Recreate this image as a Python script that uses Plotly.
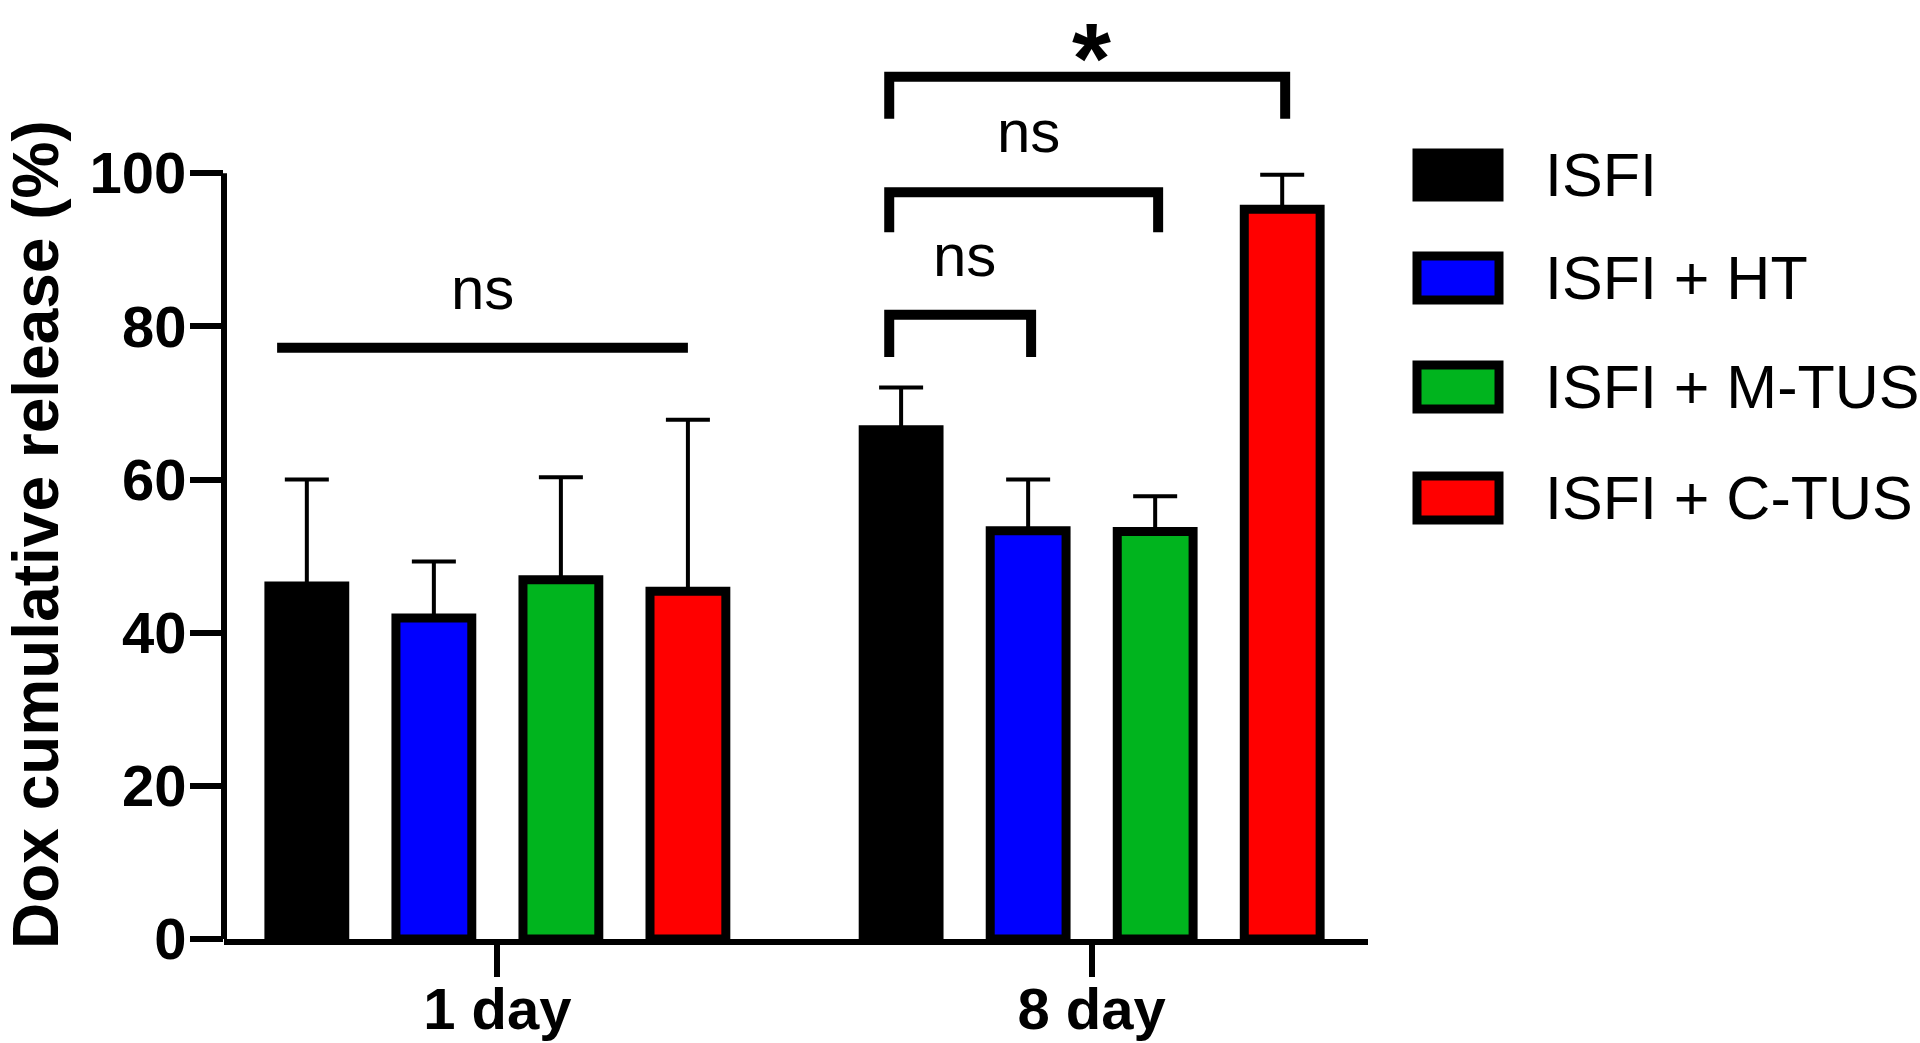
import plotly.graph_objects as go

# ---------------- data ----------------
categories = ["1 day", "8 day"]
groups = ["ISFI", "ISFI + HT", "ISFI + M-TUS", "ISFI + C-TUS"]
colors = ["#000000", "#0000FF", "#00B41E", "#FF0000"]

isfi = [46.1, 66.5]
isfi_ht = [41.9, 53.3]
isfi_mtus = [46.9, 53.2]
isfi_ctus = [45.4, 95.3]

isfi_sd = [13.9, 5.5]
isfi_ht_sd = [7.4, 6.7]
isfi_mtus_sd = [13.4, 4.6]
isfi_ctus_sd = [22.4, 4.5]

y_ticks = [0, 20, 40, 60, 80, 100]
y_title = "Dox cumulative release (%)"

# significance marks: (group index, from series, to series, bar level, label, label level)
sig_1day = (0, 0, 3, 77.2, "ns", 85.0)
# (group index, from series, to series, bar level, leg end, label, label level)
sig_8day = [
    (1, 0, 1, 81.5, 76.0, "ns", 89.3),
    (1, 0, 2, 97.5, 92.3, "ns", 105.5),
    (1, 0, 3, 112.6, 107.1, "*", 115.0),
]

means = [isfi, isfi_ht, isfi_mtus, isfi_ctus]
sds = [isfi_sd, isfi_ht_sd, isfi_mtus_sd, isfi_ctus_sd]

# ---------------- layout constants ----------------
W, H = 1920, 1043
ML, MR, MT, MB = 224, 552, 7, 104
PW, PH = W - ML - MR, H - MT - MB
YMAX = 121.7
XR = [-0.46, 1.465]
BARGAP = 0.145
BARGROUPGAP = 0.403
FONT = "Liberation Sans, Arial, Helvetica, sans-serif"
LEGEND_ROWS_PX = [175, 278, 387, 498]
x_pos = list(range(len(categories)))

slot = (1 - BARGAP) / len(groups)


def center(g, i):
    return x_pos[g] + (i - (len(groups) - 1) / 2) * slot


fig = go.Figure()
for name, col, m, sd in zip(groups, colors, means, sds):
    fig.add_trace(go.Bar(
        name=name, x=x_pos, y=m,
        marker=dict(color=col, line=dict(color="black", width=9)),
        error_y=dict(type="data", array=sd, arrayminus=[0] * len(sd), symmetric=False,
                     color="black", thickness=4, width=22),
        showlegend=False,
    ))

shapes = []
annotations = []

# y axis line only up to 100
shapes.append(dict(type="line", xref="paper", yref="paper", x0=0, x1=0,
                   y0=0, y1=y_ticks[-1] / YMAX, line=dict(color="black", width=6)))

# 1 day ns line
g, a, b, lvl, lab, ly = sig_1day
x0, x1 = center(g, a) - 0.05, center(g, b)
shapes.append(dict(type="line", xref="x", yref="y", x0=x0, x1=x1, y0=lvl, y1=lvl,
                   line=dict(color="black", width=10)))
annotations.append(dict(x=(x0 + x1) / 2, y=ly, xref="x", yref="y", text=lab, showarrow=False,
                        xanchor="center", yanchor="middle",
                        font=dict(family=FONT, size=60, color="black")))

# 8 day brackets
for g, a, b, top, leg, lab, ly in sig_8day:
    x0, x1 = center(g, a) - 0.02, center(g, b) + 0.005
    shapes.append(dict(type="path", xref="x", yref="y",
                       path=f"M {x0},{leg} L {x0},{top} L {x1},{top} L {x1},{leg}",
                       line=dict(color="black", width=10)))
    if lab == "*":
        fnt = dict(family=FONT, size=100, color="black")
        txt = "<b>*</b>"
    else:
        fnt = dict(family=FONT, size=60, color="black")
        txt = lab
    annotations.append(dict(x=(center(g, a) + center(g, b)) / 2, y=ly, xref="x", yref="y",
                            text=txt, showarrow=False,
                            xanchor="center", yanchor="middle", font=fnt))

# custom legend (paper coordinates)
for name, col, cy in zip(groups, colors, LEGEND_ROWS_PX):
    py = (H - MB - cy) / PH
    shapes.append(dict(type="rect", xref="paper", yref="paper",
                       x0=(1417 - ML) / PW, x1=(1499 - ML) / PW,
                       y0=py - 22 / PH, y1=py + 22 / PH,
                       fillcolor=col, line=dict(color="black", width=9)))
    annotations.append(dict(x=(1543 - ML) / PW, y=py, xref="paper", yref="paper",
                            text=name, showarrow=False, xanchor="left", yanchor="middle",
                            font=dict(family=FONT, size=61, color="black")))

# y axis title
annotations.append(dict(x=(36 - ML) / PW, y=(H - MB - 535) / PH, xref="paper", yref="paper",
                        text=f"<b>{y_title}</b>", textangle=-90, showarrow=False,
                        xanchor="center", yanchor="middle",
                        font=dict(family=FONT, size=64, color="black")))

fig.update_layout(
    width=W, height=H,
    margin=dict(l=ML, r=MR, t=MT, b=MB, pad=0, autoexpand=False),
    paper_bgcolor="white", plot_bgcolor="white",
    barmode="group", bargap=BARGAP, bargroupgap=BARGROUPGAP,
    shapes=shapes, annotations=annotations,
    font=dict(family=FONT, color="black"),
    xaxis=dict(range=XR, tickvals=x_pos, ticktext=[f"<b>{c}</b>" for c in categories],
               showline=True, linecolor="black", linewidth=6, ticks="outside",
               ticklen=32, tickwidth=6, tickcolor="black", showgrid=False, zeroline=False,
               automargin=False, ticklabelstandoff=-18,
               tickfont=dict(family=FONT, size=58, color="black")),
    yaxis=dict(range=[0, YMAX], tickvals=y_ticks, ticktext=[f"<b>{v}</b>" for v in y_ticks],
               showline=False, ticks="outside", ticklen=33, tickwidth=6, tickcolor="black",
               showgrid=False, zeroline=False, automargin=False, ticklabelstandoff=-8,
               tickfont=dict(family=FONT, size=58, color="black")),
)

fig.write_html("out.html", config={"displayModeBar": False},
               post_script="document.body.style.margin='0';")
